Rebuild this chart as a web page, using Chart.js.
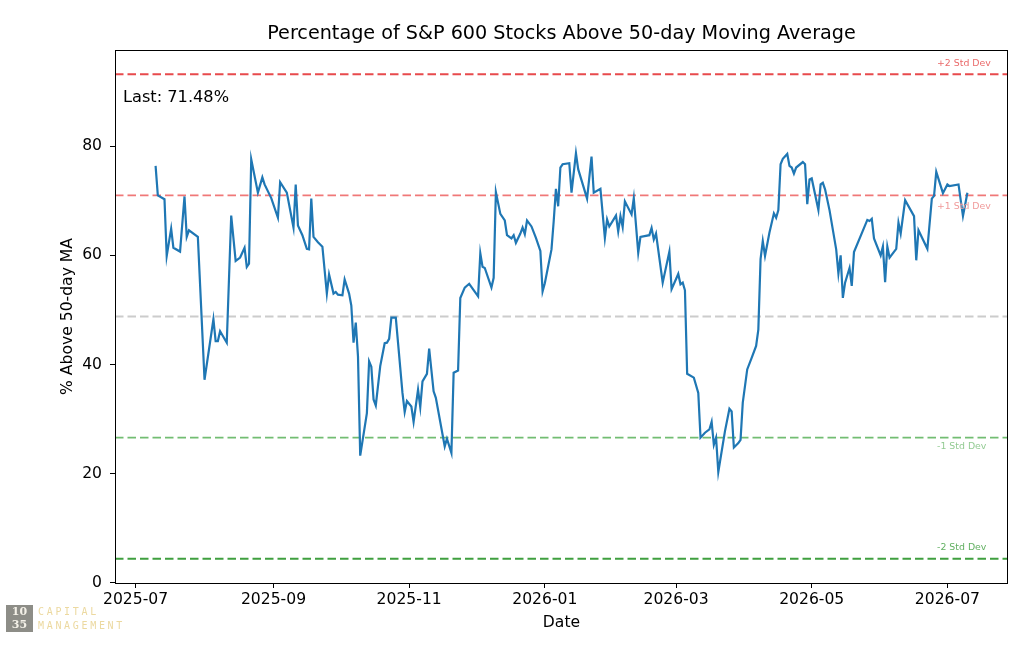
<!DOCTYPE html>
<html lang="en">
<head>
<meta charset="UTF-8">
<title>S&amp;P 600 Breadth</title>
<script src="https://cdn.jsdelivr.net/npm/chart.js"></script>
<style>
  html, body { margin: 0; padding: 0; background: #fff; }
  #wrap { width: 1032px; height: 648px; }
</style>
</head>
<body>
<div id="wrap"><canvas id="breadth" width="1032" height="648"></canvas></div>
<script>
// Daily readings
const dates = [
  '2025-07-10','2025-07-11','2025-07-14','2025-07-15','2025-07-17','2025-07-18','2025-07-21','2025-07-23','2025-07-24','2025-07-25',
  '2025-07-29','2025-08-01','2025-08-05','2025-08-06','2025-08-07','2025-08-08','2025-08-11','2025-08-13','2025-08-15','2025-08-17',
  '2025-08-19','2025-08-20','2025-08-21','2025-08-22','2025-08-25','2025-08-27','2025-08-28','2025-08-31','2025-09-03','2025-09-04',
  '2025-09-07','2025-09-10','2025-09-11','2025-09-12','2025-09-14','2025-09-16','2025-09-17','2025-09-18','2025-09-19','2025-09-21',
  '2025-09-23','2025-09-25','2025-09-26','2025-09-28','2025-09-29','2025-09-30','2025-10-02','2025-10-03','2025-10-05','2025-10-06',
  '2025-10-07','2025-10-08','2025-10-09','2025-10-10','2025-10-13','2025-10-14','2025-10-15','2025-10-16','2025-10-17','2025-10-19',
  '2025-10-21','2025-10-22','2025-10-23','2025-10-24','2025-10-26','2025-10-27','2025-10-29','2025-10-30','2025-10-31','2025-11-02',
  '2025-11-03','2025-11-05','2025-11-06','2025-11-07','2025-11-09','2025-11-10','2025-11-12','2025-11-13','2025-11-17','2025-11-18',
  '2025-11-20','2025-11-21','2025-11-23','2025-11-24','2025-11-26','2025-11-28','2025-12-02','2025-12-03','2025-12-04','2025-12-05',
  '2025-12-08','2025-12-09','2025-12-10','2025-12-12','2025-12-14','2025-12-15','2025-12-17','2025-12-18','2025-12-19','2025-12-21',
  '2025-12-22','2025-12-23','2025-12-24','2025-12-26','2025-12-28','2025-12-30','2025-12-31','2026-01-01','2026-01-04','2026-01-05',
  '2026-01-06','2026-01-07','2026-01-08','2026-01-09','2026-01-12','2026-01-13','2026-01-15','2026-01-16','2026-01-20','2026-01-22',
  '2026-01-23','2026-01-26','2026-01-28','2026-01-29','2026-01-30','2026-02-02','2026-02-03','2026-02-04','2026-02-05','2026-02-06',
  '2026-02-09','2026-02-10','2026-02-12','2026-02-13','2026-02-17','2026-02-18','2026-02-19','2026-02-20','2026-02-23','2026-02-26',
  '2026-02-27','2026-03-02','2026-03-03','2026-03-04','2026-03-05','2026-03-06','2026-03-09','2026-03-11','2026-03-12','2026-03-14',
  '2026-03-16','2026-03-17','2026-03-18','2026-03-19','2026-03-20','2026-03-23','2026-03-25','2026-03-26','2026-03-27','2026-03-29',
  '2026-03-30','2026-03-31','2026-04-02','2026-04-04','2026-04-06','2026-04-07','2026-04-08','2026-04-09','2026-04-10','2026-04-12',
  '2026-04-14','2026-04-15','2026-04-16','2026-04-17','2026-04-18','2026-04-20','2026-04-21','2026-04-22','2026-04-23','2026-04-24',
  '2026-04-27','2026-04-28','2026-04-29','2026-04-30','2026-05-01','2026-05-04','2026-05-05','2026-05-06','2026-05-07','2026-05-09',
  '2026-05-12','2026-05-13','2026-05-14','2026-05-15','2026-05-16','2026-05-18','2026-05-19','2026-05-20','2026-05-26','2026-05-27',
  '2026-05-28','2026-05-29','2026-06-01','2026-06-02','2026-06-03','2026-06-04','2026-06-05','2026-06-08','2026-06-09','2026-06-10',
  '2026-06-12','2026-06-16','2026-06-17','2026-06-18','2026-06-22','2026-06-24','2026-06-25','2026-06-26','2026-06-29','2026-07-01',
  '2026-07-02','2026-07-06','2026-07-08','2026-07-10'
];
const pctAbove = [
  76.4, 71.0, 70.3, 59.9, 64.9, 61.4, 60.7, 70.8, 63.4, 64.6,
  63.4, 37.2, 48.3, 44.3, 44.3, 46.1, 44.0, 67.3, 59.0, 59.6,
  61.4, 57.9, 58.5, 77.6, 71.5, 74.3, 73.0, 70.5, 66.9, 73.4,
  71.5, 65.1, 73.0, 65.5, 63.7, 61.2, 61.1, 70.4, 63.4, 62.4,
  61.6, 53.0, 56.5, 53.0, 53.3, 52.8, 52.7, 55.6, 53.0, 50.8,
  44.0, 47.7, 41.5, 23.3, 31.1, 40.6, 39.6, 33.6, 32.5, 39.7,
  43.9, 44.0, 44.7, 48.6, 48.6, 44.0, 34.8, 31.3, 33.3, 32.3,
  29.5, 35.4, 32.2, 36.9, 38.3, 42.9, 35.1, 33.9, 25.0, 26.4,
  23.8, 38.5, 38.9, 52.2, 54.1, 54.8, 52.5, 60.4, 57.9, 57.7,
  54.1, 55.9, 71.6, 67.6, 66.4, 63.7, 63.1, 63.7, 62.3, 64.0,
  65.1, 63.9, 66.4, 65.3, 63.2, 60.8, 53.4, 54.9, 61.1, 66.3,
  72.2, 69.0, 76.1, 76.7, 76.9, 71.5, 78.7, 75.8, 70.4, 78.1,
  71.5, 72.2, 63.2, 66.6, 65.3, 67.3, 64.4, 67.2, 65.2, 69.9,
  67.5, 70.5, 60.5, 63.4, 63.7, 65.0, 62.9, 64.0, 55.0, 60.7,
  53.8, 56.6, 54.7, 55.0, 53.6, 38.3, 37.6, 34.8, 26.6, 27.5,
  28.1, 29.5, 25.3, 26.6, 20.3, 27.8, 31.9, 31.4, 24.8, 25.6,
  26.2, 33.0, 39.1, 41.2, 43.4, 46.4, 59.3, 62.6, 59.9, 64.2,
  67.7, 66.9, 68.3, 76.7, 77.7, 78.6, 76.4, 76.1, 75.0, 76.1,
  77.1, 76.7, 69.4, 73.9, 74.1, 68.3, 73.0, 73.3, 72.1, 68.3,
  61.1, 56.7, 60.0, 52.2, 55.0, 57.7, 54.4, 60.6, 66.5, 66.3,
  66.7, 63.1, 60.0, 61.6, 55.1, 61.6, 59.6, 61.2, 66.0, 64.0,
  70.1, 67.2, 59.1, 64.6, 61.2, 70.4, 70.9, 75.3, 71.4, 73.0,
  72.7, 73.0, 67.2, 71.48
];

// Long-run stats of the series
const meanPct = 48.8;
const stdPct = 22.2;
const bandSigmas = [2, 1, 0, -1, -2];
const bandLabels = ['+2 Std Dev', '+1 Std Dev', '', '-1 Std Dev', '-2 Std Dev'];

const yTicks = [0, 20, 40, 60, 80];
const xTickMonths = ['2025-07', '2025-09', '2025-11', '2026-01', '2026-03', '2026-05', '2026-07'];

// styling for the bands
const bandLineColors = ['#e84a4c', '#f07878', '#cccccc', '#72bd72', '#3f9f3f'];
const bandTextColors = ['#ea6a6a', '#f09a9a', '', '#93cb93', '#62b062'];
const bandTextOffset = [-11, 11, 0, 9, -11];

const FONT = '"DejaVu Sans", sans-serif';
const toMs = s => Date.parse(s + 'T00:00:00Z');

function fmtMonth(v) {
  const d = new Date(v);
  const m = d.getUTCMonth() + 1;
  return d.getUTCFullYear() + '-' + (m < 10 ? '0' + m : m);
}

// matplotlib-like 5% margins
const xs = dates.map(toMs);
const xSpan = xs[xs.length - 1] - xs[0];
const xMin = xs[0] - 0.05 * xSpan;
const xMax = xs[xs.length - 1] + 0.05 * xSpan;
const yLo = Math.min(meanPct - 2 * stdPct, ...pctAbove);
const yHi = Math.max(meanPct + 2 * stdPct, ...pctAbove);
const yMin = yLo - 0.05 * (yHi - yLo);
const yMax = yHi + 0.05 * (yHi - yLo);

const decor = {
  id: 'decor',
  beforeDatasetsDraw(chart) {
    const { ctx, chartArea: a, scales } = chart;
    ctx.save();
    ctx.beginPath();
    ctx.rect(a.left, a.top, a.right - a.left, a.bottom - a.top);
    ctx.clip();
    ctx.lineWidth = 1.8;
    ctx.setLineDash([8.5, 4]);
    bandSigmas.forEach((k, i) => {
      const y = scales.y.getPixelForValue(meanPct + k * stdPct);
      ctx.strokeStyle = bandLineColors[i];
      ctx.beginPath();
      ctx.moveTo(a.left, y);
      ctx.lineTo(a.right, y);
      ctx.stroke();
    });
    ctx.restore();
  },
  afterDraw(chart) {
    const { ctx, chartArea: a, scales } = chart;
    ctx.save();

    // frame
    ctx.strokeStyle = '#000';
    ctx.lineWidth = 1;
    ctx.strokeRect(a.left + 0.5, a.top + 0.5, a.right - a.left - 1, a.bottom - a.top);

    // band labels
    ctx.font = '9.4px ' + FONT;
    ctx.textAlign = 'left';
    ctx.textBaseline = 'middle';
    bandSigmas.forEach((k, i) => {
      if (!bandLabels[i]) return;
      const y = scales.y.getPixelForValue(meanPct + k * stdPct);
      ctx.fillStyle = bandTextColors[i];
      ctx.fillText(bandLabels[i], a.right - 71, y + bandTextOffset[i]);
    });

    // title
    ctx.fillStyle = '#000';
    ctx.font = '19.2px ' + FONT;
    ctx.textAlign = 'center';
    ctx.fillText('Percentage of S&P 600 Stocks Above 50-day Moving Average', (a.left + a.right) / 2, 34);

    // axis titles
    ctx.font = '15.6px ' + FONT;
    ctx.fillText('Date', (a.left + a.right) / 2, 623);
    ctx.save();
    ctx.translate(68, (a.top + a.bottom) / 2);
    ctx.rotate(-Math.PI / 2);
    ctx.fillText('% Above 50-day MA', 0, 0);
    ctx.restore();

    // last value
    ctx.textAlign = 'left';
    ctx.font = '16.2px ' + FONT;
    ctx.fillText('Last: ' + pctAbove[pctAbove.length - 1].toFixed(2) + '%', a.left + 8, 98);

    // logo
    ctx.fillStyle = '#8d8d87';
    ctx.fillRect(6, 605, 27, 27);
    ctx.fillStyle = '#f4f1e8';
    ctx.font = 'bold 11px "DejaVu Serif", serif';
    ctx.textAlign = 'center';
    ctx.fillText('10', 19.5, 612);
    ctx.fillText('35', 19.5, 625.5);
    ctx.fillStyle = '#ecd9a0';
    ctx.font = '10px "DejaVu Sans Mono", monospace';
    ctx.textAlign = 'left';
    [['CAPITAL', 612], ['MANAGEMENT', 626.5]].forEach(([word, y]) => {
      for (let i = 0; i < word.length; i++) ctx.fillText(word[i], 38 + i * 8.7, y);
    });

    ctx.restore();
  }
};

const ctx = document.getElementById('breadth').getContext('2d');
new Chart(ctx, {
  type: 'line',
  data: {
    datasets: [{
      label: '% Above 50-day MA',
      data: xs.map((x, i) => ({ x, y: pctAbove[i] })),
      borderColor: '#1f77b4',
      borderWidth: 2.2,
      pointRadius: 0,
      tension: 0,
      fill: false
    }]
  },
  options: {
    responsive: false,
    animation: false,
    layout: { padding: { top: 50, right: 24, left: 0, bottom: 0 } },
    plugins: { legend: { display: false }, tooltip: { enabled: false }, title: { display: false } },
    scales: {
      x: {
        type: 'linear',
        min: xMin,
        max: xMax,
        afterBuildTicks: s => { s.ticks = xTickMonths.map(m => ({ value: toMs(m + '-01') })); },
        afterFit: s => { s.height = 65; },
        ticks: { callback: v => fmtMonth(v), color: '#000', font: { family: FONT, size: 15.6 }, padding: 3, maxRotation: 0, autoSkip: false },
        grid: { drawOnChartArea: false, drawTicks: true, tickLength: 5, color: '#000' },
        border: { display: false }
      },
      y: {
        min: yMin,
        max: yMax,
        afterBuildTicks: s => { s.ticks = yTicks.map(v => ({ value: v })); },
        afterFit: s => { s.width = 115; },
        ticks: { color: '#000', font: { family: FONT, size: 15.6 }, padding: 8 },
        grid: { drawOnChartArea: false, drawTicks: true, tickLength: 5, color: '#000' },
        border: { display: false }
      }
    }
  },
  plugins: [decor]
});
</script>
</body>
</html>
